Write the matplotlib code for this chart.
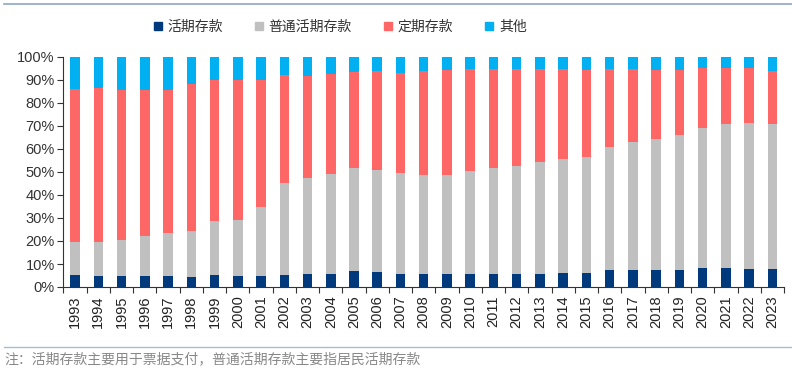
import numpy as np
import matplotlib.pyplot as plt
from matplotlib.ticker import PercentFormatter, FixedLocator
from matplotlib.lines import Line2D

plt.rcParams['font.family'] = ['Liberation Sans', 'Noto Sans CJK SC', 'DejaVu Sans']

# 数据（占比，%）
years = [str(y) for y in range(1993, 2024)]
huoqi = [5.1, 4.6, 4.6, 4.9, 4.6, 4.3, 5.1, 4.6, 4.6, 5.1, 5.5, 5.8, 6.8, 6.4, 5.8, 5.7,
         5.7, 5.7, 5.7, 5.7, 5.7, 5.9, 5.9, 7.2, 7.2, 7.5, 7.5, 8.3, 8.1, 8.0, 8.0]
# 累计顶部
putong_top = [19.6, 19.4, 20.3, 22.0, 23.5, 24.2, 28.8, 29.3, 34.8, 45.4, 47.4, 49.3, 51.7, 51.0,
              49.7, 48.8, 48.8, 50.3, 51.7, 52.5, 54.2, 55.7, 56.5, 60.9, 63.0, 64.2, 65.9,
              69.1, 70.7, 71.3, 71.0]
dingqi_top = [86.1, 86.7, 85.7, 85.5, 85.8, 88.1, 90.0, 90.1, 90.0, 92.2, 91.9, 92.8, 93.5, 93.8,
              93.2, 93.8, 94.3, 94.6, 94.6, 94.6, 94.6, 94.6, 94.3, 94.6, 94.6, 94.3, 94.5,
              95.2, 95.2, 95.4, 93.9]

huoqi = np.array(huoqi)
putong = np.array(putong_top) - huoqi
dingqi = np.array(dingqi_top) - np.array(putong_top)
qita = 100 - np.array(dingqi_top)

colors = ['#003A7D', '#C0C0C0', '#FF6666', '#00B0F0']
labels = ['活期存款', '普通活期存款', '定期存款', '其他']

fig = plt.figure(figsize=(7.92, 3.70), dpi=100)
ax = fig.add_axes([63 / 792, 1 - 287 / 370, (784 - 63) / 792, 230 / 370])

x = np.arange(len(years))
w = 0.41
bottom = np.zeros(len(years))
for vals, c in zip([huoqi, putong, dingqi, qita], colors):
    ax.bar(x, vals, w, bottom=bottom, color=c, edgecolor='none')
    bottom += vals

ax.set_xlim(-0.52, len(years) - 0.5)
ax.set_ylim(0, 100)
ax.set_yticks(np.arange(0, 101, 10))
ax.yaxis.set_major_formatter(PercentFormatter(decimals=0))
ax.tick_params(axis='y', labelsize=10.5, colors='#333333', length=4, width=0.8, pad=2)

ax.set_xticks(x)
ax.set_xticklabels(years, rotation=90, fontsize=10.5, color='#222222')
ax.tick_params(axis='x', length=0, pad=6)
ax.xaxis.set_minor_locator(FixedLocator(np.arange(-0.5, len(years) + 0.5, 1)))
ax.tick_params(axis='x', which='minor', length=4, width=0.8, color='#333333')

for s in ['top', 'right']:
    ax.spines[s].set_visible(False)
for s in ['left', 'bottom']:
    ax.spines[s].set_color('#333333')
    ax.spines[s].set_linewidth(0.8)

# 图例
handles = [Line2D([], [], marker='s', linestyle='none', markersize=6, color=c) for c in colors]
fig.legend(handles, labels, loc='center', bbox_to_anchor=(338 / 792, 1 - 27 / 370), ncol=4,
           frameon=False, prop={'family': ['Noto Sans CJK SC'], 'size': 10},
           handletextpad=0.1, columnspacing=2.0, handlelength=1.2, labelcolor='#333333')

# 上下分隔线
fig.add_artist(Line2D([0.005, 1], [1 - 3.5 / 370] * 2, color='#8FA6C4', lw=1.2))
fig.add_artist(Line2D([0.005, 1], [1 - 347 / 370] * 2, color='#A9BCD6', lw=1.0))

fig.text(0.005, 1 - 359 / 370, '注：活期存款主要用于票据支付，普通活期存款主要指居民活期存款',
         family=['Noto Sans CJK SC'], fontsize=10, color='#888888', va='center')

fig.savefig('out.png', dpi=100)
